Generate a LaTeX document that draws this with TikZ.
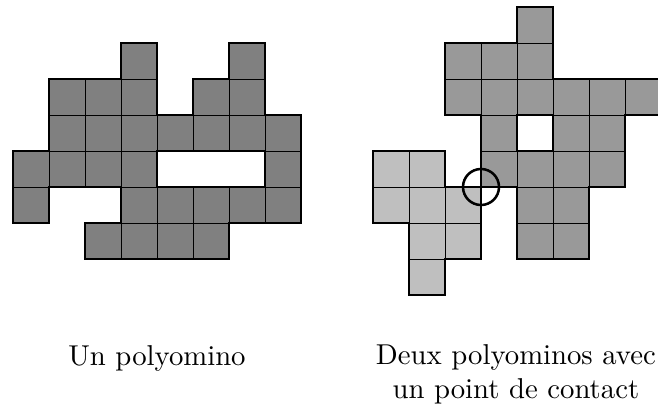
\documentclass[tikz,border=0pt]{standalone}
\begin{document}
\begin{tikzpicture}[
  cellgrid/.style={draw=black, line width=0.6pt},
  outline/.style={draw=black, line width=2pt, line join=miter},
  label/.style={font=\fontsize{10}{12}\selectfont, scale=2.27, align=center, anchor=base}
]
\useasboundingbox (0,0) rectangle (18.2778,11.3611);
\clip (0,0) rectangle (18.2778,11.3611);
\begin{scope}[shift={(0.3611,11.1667)}, yscale=-1]
  % single polyomino (cells given as column/row, rows counted downward)
  \foreach \c/\r in {3/1,6/1, 1/2,2/2,3/2,5/2,6/2, 1/3,2/3,3/3,4/3,5/3,6/3,7/3,
                     0/4,1/4,2/4,3/4,7/4, 0/5,3/5,4/5,5/5,6/5,7/5, 2/6,3/6,4/6,5/6}
    \filldraw[fill=black!50, cellgrid] (\c,\r) rectangle ++(1,1);
  \draw[outline] (1,2) -- (3,2) -- (3,1) -- (4,1) -- (4,3) -- (5,3) -- (5,2) -- (6,2)
    -- (6,1) -- (7,1) -- (7,3) -- (8,3) -- (8,6) -- (6,6) -- (6,7) -- (2,7) -- (2,6)
    -- (3,6) -- (3,5) -- (1,5) -- (1,6) -- (0,6) -- (0,4) -- (1,4) -- cycle;
  \draw[outline] (4,4) rectangle (7,5);

  % darker polyomino of the pair
  \foreach \c/\r in {14/0, 12/1,13/1,14/1, 12/2,13/2,14/2,15/2,16/2,17/2,
                     13/3,15/3,16/3, 13/4,14/4,15/4,16/4, 14/5,15/5, 14/6,15/6}
    \filldraw[fill=black!40, cellgrid] (\c,\r) rectangle ++(1,1);
  \draw[outline] (14,0) -- (15,0) -- (15,2) -- (18,2) -- (18,3) -- (17,3) -- (17,5)
    -- (16,5) -- (16,7) -- (14,7) -- (14,5) -- (13,5) -- (13,3) -- (12,3) -- (12,1)
    -- (14,1) -- cycle;
  \draw[outline] (14,3) rectangle (15,4);

  % lighter polyomino of the pair
  \foreach \c/\r in {10/4,11/4, 10/5,11/5,12/5, 11/6,12/6, 11/7}
    \filldraw[fill=black!25, cellgrid] (\c,\r) rectangle ++(1,1);
  \draw[outline] (10,4) -- (12,4) -- (12,5) -- (13,5) -- (13,7) -- (12,7) -- (12,8)
    -- (11,8) -- (11,6) -- (10,6) -- cycle;

  % contact point
  \draw[line width=2pt] (13,5) circle (0.5);
\end{scope}

\node[label] (lbl1) at (4.361,1.222) {Un polyomino};
\node[label] (lbl2) at (14.33,0.278) {Deux polyominos avec\\un point de contact};
\end{tikzpicture}
\end{document}
